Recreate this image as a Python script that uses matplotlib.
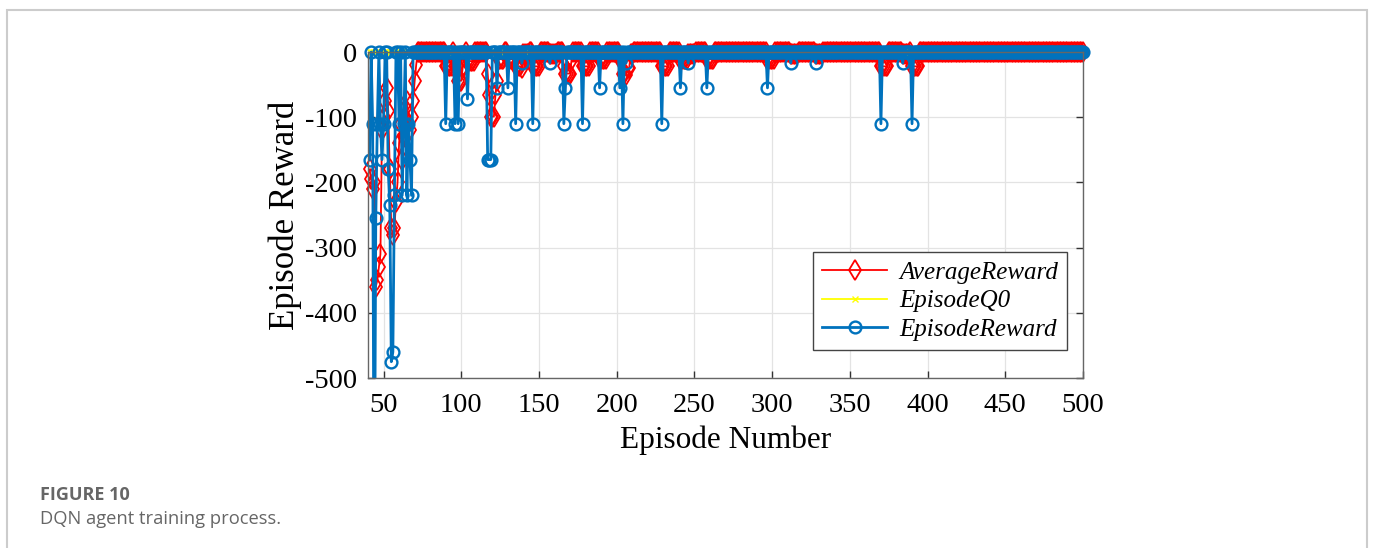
import numpy as np
import matplotlib
matplotlib.use("Agg")
import matplotlib.pyplot as plt
from matplotlib.patches import Rectangle

plt.rcParams["axes.unicode_minus"] = False

# ---------------- data ----------------
first_episode = 41
last_episode = 500

# early episodes 41..72
early_reward = [-165, 0, -110, -800, -255, -110, 0, -110, -165, -110, 0, 0,
                -180, -235, -475, -460, -220, 0, 0, -110, 0, -220, -110, 0,
                -220, -110, -165, -220, 0, 0, 0, 0]
early_average = [-180, -195, -210, -200, -360, -350, -330, -310, -120, -100,
                 -75, -55, -90, -180, -270, -280, -270, -230, -200, -140,
                 -110, -165, -130, -100, -75, -110, -120, -100, -75, -45,
                 -20, 0]

# later episodes: dips of the episode reward (others are 0)
late_eps = [90, 96, 98, 104, 117, 118, 119, 123, 130, 135, 139, 146, 157,
            166, 167, 178, 189, 202, 204, 206, 229, 241, 246, 258, 297, 312,
            328, 370, 384, 390]
late_reward = [-110, -110, -110, -72, -165, -165, -165, -55, -55, -110, -17,
               -110, -17, -110, -55, -110, -55, -55, -110, -17, -110, -55,
               -17, -55, -55, -17, -17, -110, -17, -110]

# later episodes: average reward dips (start, end, value)
avg_run_start = [90, 96, 98, 101, 104, 117, 118, 119, 122, 123, 124, 130, 135,
                 139, 140, 146, 157, 166, 167, 171, 178, 189, 202, 204, 206,
                 207, 209, 229, 241, 246, 258, 297, 312, 328, 370, 384, 390]
avg_run_end = [94, 97, 100, 102, 108, 117, 118, 121, 122, 123, 127, 134, 138,
               139, 143, 150, 161, 166, 170, 171, 182, 193, 203, 205, 206,
               208, 210, 233, 245, 250, 262, 301, 316, 332, 374, 388, 394]
avg_run_value = [-22, -22, -44, -22, -14, -33, -66, -99, -66, -44, -11, -11,
                 -22, -25, -3.4, -22, -3.4, -22, -33, -11, -22, -11, -11, -33,
                 -36, -25, -3.4, -22, -11, -3.4, -11, -11, -3.4, -3.4, -22,
                 -3.4, -22]

q0_level = 0.0

# ---------------- build series ----------------
episodes = np.arange(first_episode, last_episode + 1)
reward = np.zeros(len(episodes))
average = np.zeros(len(episodes))
reward[:len(early_reward)] = early_reward
average[:len(early_average)] = early_average
for e, v in zip(late_eps, late_reward):
    reward[e - first_episode] = v
for s, e, v in zip(avg_run_start, avg_run_end, avg_run_value):
    average[s - first_episode:e - first_episode + 1] = v
q0 = np.full(len(episodes), q0_level)

# ---------------- figure ----------------
W, H = 1375, 548
fig = plt.figure(figsize=(W / 100, H / 100), dpi=100)
ax = fig.add_axes([368 / W, 1 - 378 / H, 715 / W, 326 / H])

serif = ["Liberation Serif", "DejaVu Serif"]

l1, = ax.plot(episodes, average, color="#FF0000", marker="d", mfc="none",
              mec="#FF0000", ms=10, mew=1.3, lw=1.3, label="AverageReward")
l2, = ax.plot(episodes, q0, color="#FFFF00", marker="x", ms=4, mew=1,
              lw=1.3, label="EpisodeQ0")
l3, = ax.plot(episodes, reward, color="#0072BD", marker="o", mfc="none",
              mec="#0072BD", ms=8.5, mew=1.7, lw=2.0, label="EpisodeReward")

clip = Rectangle((-0.05, 0), 1.1, 1.2, transform=ax.transAxes)
for ln in (l1, l2, l3):
    ln.set_clip_path(clip)

ax.set_xlim(40, 500)
ax.set_ylim(-500, 0)
ax.set_xticks(np.arange(50, 501, 50))
ax.set_yticks(np.arange(-500, 1, 100))
ax.grid(True, color="#e3e3e3", lw=0.9)
ax.set_axisbelow(True)
ax.tick_params(direction="in", length=5, width=1, top=True, right=True,
               labelsize=20.5, colors="#333333", labelcolor="black")
ax.tick_params(axis="x", pad=11)
ax.tick_params(axis="y", pad=8)
for lab in ax.get_xticklabels() + ax.get_yticklabels():
    lab.set_fontfamily(serif)
for sp in ax.spines.values():
    sp.set_color("#666666")
    sp.set_linewidth(1.0)

ax.set_xlabel("Episode Number", fontsize=22.5, family=serif, labelpad=5)
ax.set_ylabel("Episode Reward", fontsize=25, family=serif, labelpad=2)

leg = ax.legend(loc="lower right", bbox_to_anchor=(0.978, 0.086),
                prop={"family": serif, "style": "italic", "size": 18},
                fancybox=False, edgecolor="#444444", framealpha=1,
                handlelength=2.6, labelspacing=0.25, borderpad=0.35,
                handletextpad=0.5, borderaxespad=0)
leg.get_frame().set_linewidth(1.0)

# caption and border
fig.text(40 / W, 1 - 495 / H, "FIGURE 10", fontsize=13, weight="bold",
         color="#666666", family=["Open Sans", "DejaVu Sans"], va="center")
fig.text(40 / W, 1 - 519 / H, "DQN agent training process.", fontsize=13.2,
         color="#666666", family=["Open Sans", "DejaVu Sans"], va="center")
fig.add_artist(Rectangle((6.5 / W, -0.1), (1367 - 6.5) / W, 1.1 - 10 / H,
                         transform=fig.transFigure, fill=False,
                         edgecolor="#cccccc", lw=1.5))

fig.savefig("out.png", dpi=100)
